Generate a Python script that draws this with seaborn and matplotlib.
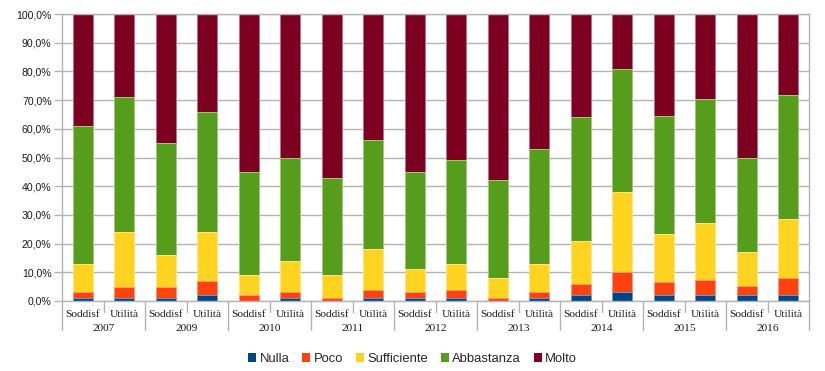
import matplotlib
matplotlib.use("Agg")
import matplotlib.pyplot as plt
import seaborn as sns
import pandas as pd
import numpy as np
from matplotlib.patches import Patch
from matplotlib.colors import to_rgb
import matplotlib.transforms as mtransforms

years = ["2007", "2009", "2010", "2011", "2012", "2013", "2014", "2015", "2016"]
kinds = ["Soddisf", "Utilità"]
levels = ["Nulla", "Poco", "Sufficiente", "Abbastanza", "Molto"]
colors = ["#004586", "#ff420e", "#ffd320", "#579d1c", "#7e0021"]

nulla       = [1, 1, 1, 2, 0, 1, 0, 1, 1, 1, 0, 1, 2, 3, 2, 2, 2, 2.2]
poco        = [2, 4, 4, 5, 2, 2, 1, 3, 2, 3, 1, 2, 4, 7, 4.5, 5.2, 3.3, 5.7]
sufficiente = [10, 19, 11, 17, 7, 11, 8, 14, 8, 9, 7, 10, 15, 28, 17, 20, 11.7, 20.8]
abbastanza  = [48, 47, 39, 42, 36, 36, 34, 38, 34, 36, 34, 40, 43, 43, 40.8, 43.3, 33, 43.1]
molto       = [39, 29, 45, 34, 55, 50, 57, 44, 55, 51, 58, 47, 36, 19, 35.7, 29.5, 50, 28.2]

series = [nulla, poco, sufficiente, abbastanza, molto]
labels = [f"{y} {k}" for y in years for k in kinds]

cum = np.cumsum(np.array(series, dtype=float), axis=0)
rows = []
for li, lev in enumerate(levels):
    for bi, lab in enumerate(labels):
        rows.append({"label": lab, "level": lev, "cum": cum[li, bi]})
df = pd.DataFrame(rows)

sns.set_style("white")
plt.rcParams["font.family"] = ["Liberation Sans", "DejaVu Sans"]

fig = plt.figure(figsize=(8.25, 3.71), dpi=100)
ax = fig.add_axes([62 / 825, 1 - 301 / 371, (809 - 62) / 825, (301 - 14) / 371])

def lighter(c, f=0.45):
    r, g, b = to_rgb(c)
    return (r + (1 - r) * f, g + (1 - g) * f, b + (1 - b) * f)

for li in range(len(levels) - 1, -1, -1):
    sub = df[df["level"] == levels[li]]
    sns.barplot(data=sub, x="label", y="cum", order=labels, color=colors[li],
                saturation=1, width=0.49, errorbar=None, ax=ax,
                edgecolor=lighter(colors[li]), linewidth=0.7, zorder=2)

ax.set_xlim(-0.5, len(labels) - 0.5)
ax.set_ylim(0, 100)
ax.set_yticks(np.arange(0, 101, 10))
ax.set_yticklabels([f"{v:.1f}%".replace(".", ",") for v in np.arange(0, 101, 10)],
                   fontsize=7.6, color="#1a1a1a")
ax.yaxis.grid(True, color="#b3b3b3", lw=1, zorder=0)
ax.set_axisbelow(True)
for s in ax.spines.values():
    s.set_color("#b3b3b3")
    s.set_linewidth(1)
ax.tick_params(axis="y", length=6, width=1, color="#b3b3b3", pad=1.5, left=True)
ax.set_xlabel("")
ax.set_ylabel("")

serif = ["Liberation Serif", "DejaVu Serif"]
ax.set_xticks(range(len(labels)))
ax.set_xticklabels([k for y in years for k in kinds], fontsize=8.2,
                   family=serif, color="#1a1a1a")
ax.tick_params(axis="x", length=0, pad=6.5)

trans = mtransforms.blended_transform_factory(ax.transData, ax.transAxes)
for i in range(len(labels) + 1):
    xpos = i - 0.5
    if i % 2 == 0:
        ax.plot([xpos, xpos], [0, -0.101], transform=trans, color="#b3b3b3",
                lw=1, clip_on=False)
    else:
        ax.plot([xpos, xpos], [0, -0.038], transform=trans, color="#b3b3b3",
                lw=1, clip_on=False)
for yi, y in enumerate(years):
    ax.text(2 * yi + 0.5, -0.097, y, transform=trans, ha="center", va="center",
            fontsize=8.2, family=serif, color="#1a1a1a")

handles = [Patch(facecolor=c, edgecolor="none") for c in colors]
fig.legend(handles, levels, loc="center", bbox_to_anchor=(0.5, 12 / 371), ncol=5,
           frameon=False, fontsize=9.4, handlelength=0.6, handleheight=0.6,
           handletextpad=0.25, columnspacing=1.0)

fig.savefig("out.png", dpi=100)
